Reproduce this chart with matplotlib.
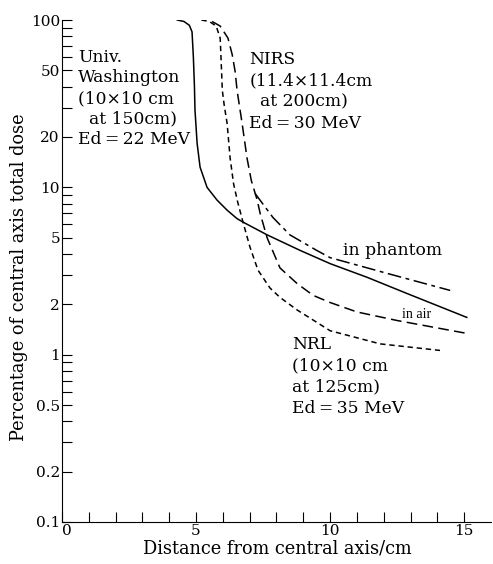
import matplotlib
matplotlib.use("Agg")
import matplotlib.pyplot as plt
from matplotlib.ticker import FixedLocator, FixedFormatter, NullFormatter

# ───── DATA ─────
# Univ. Washington, in phantom (solid)
uw_x = [4.3, 4.55, 4.75, 4.85, 4.9, 4.94, 4.96, 5.04, 5.15, 5.41, 5.78, 6.16,
        6.53, 6.75, 7.65, 8.88, 10.0, 11.38, 12.87, 15.1]
uw_y = [100, 98, 93, 85, 60, 40, 29, 18.3, 13.2, 10.0, 8.4, 7.3,
        6.5, 6.2, 5.2, 4.2, 3.5, 2.9, 2.32, 1.67]

# NRL (short dashes)
nrl_x = [5.2, 5.5, 5.75, 5.9, 5.93, 5.98, 6.05, 6.16, 6.27, 6.4, 6.55, 6.75,
         7.01, 7.31, 7.76, 8.13, 8.77, 10.0, 11.87, 14.1]
nrl_y = [100, 98, 92, 78, 60, 38, 31, 24, 15, 10.5, 8.2, 6.2,
         4.4, 3.2, 2.5, 2.2, 1.85, 1.39, 1.16, 1.06]

# NIRS in air (long dashes)
air_x = [5.6, 5.9, 6.19, 6.35, 6.46, 6.53, 6.72, 6.9, 7.06, 7.28, 7.39, 7.65,
         8.13, 8.77, 9.37, 10.0, 11.0, 12.5, 15.1]
air_y = [98, 92, 78, 62, 49, 38, 24, 15, 11, 8.4, 7.0, 5.0,
         3.3, 2.66, 2.26, 2.05, 1.8, 1.6, 1.34]

# NIRS in phantom (dash-dot)
ph_x = [7.2, 7.87, 8.5, 9.5, 10.0, 12.13, 14.48]
ph_y = [9.2, 6.6, 5.2, 4.2, 3.8, 3.06, 2.42]

y_major = [0.1, 0.2, 0.5, 1, 2, 5, 10, 20, 50, 100]
y_major_labels = ["0.1", "0.2", "0.5", "1", "2", "5", "10", "20", "50", "100"]
y_minor = [0.3, 0.4, 0.6, 0.7, 0.8, 0.9, 3, 4, 6, 7, 8, 9, 30, 40, 60, 70, 80, 90]
x_major = [0, 5, 10, 15]
x_minor = [1, 2, 3, 4, 6, 7, 8, 9, 11, 12, 13, 14]

plt.rcParams["font.family"] = ["DejaVu Serif"]
plt.rcParams["font.size"] = 11

fig = plt.figure(figsize=(4.93, 5.64), dpi=100)
ax = fig.add_axes([0.1258, 0.0745, 0.870, 0.890])

lw = 1.1
ax.plot(uw_x, uw_y, color="black", lw=lw, linestyle="-")
ax.plot(nrl_x, nrl_y, color="black", lw=lw, linestyle=(0, (3.5, 2.5)))
ax.plot(air_x, air_y, color="black", lw=lw, linestyle=(0, (7, 3.5)))
ax.plot(ph_x, ph_y, color="black", lw=lw, linestyle=(0, (9, 3, 2.5, 3)))

ax.set_yscale("log")
ax.set_xlim(0, 16)
ax.set_ylim(0.1, 100)

ax.yaxis.set_major_locator(FixedLocator(y_major))
ax.yaxis.set_major_formatter(FixedFormatter(y_major_labels))
ax.yaxis.set_minor_locator(FixedLocator(y_minor))
ax.yaxis.set_minor_formatter(NullFormatter())
ax.xaxis.set_major_locator(FixedLocator(x_major))
ax.xaxis.set_minor_locator(FixedLocator(x_minor))

ax.tick_params(which="both", direction="in", length=7, width=0.8, pad=1.5,
               labelsize=11)
ax.spines["top"].set_visible(False)
ax.spines["right"].set_visible(False)

# the "0" sits just right of the corner, clear of "0.1"
fig.canvas.draw()
ax.get_xticklabels()[0].set_horizontalalignment("left")

ax.set_xlabel("Distance from central axis/cm", fontsize=12.8)
ax.set_ylabel("Percentage of central axis total dose", fontsize=12.8)
ax.xaxis.set_label_coords(0.502, -0.034)
ax.yaxis.set_label_coords(-0.08, 0.488)

fs = 12.3
ts = "\u2009"  # thin space around "="
# va="baseline" on multi-line text anchors the last line's baseline
ax.text(0.6, 18.1, f"Univ.\nWashington\n(10×10 cm\n  at 150cm)\nEd{ts}={ts}22 MeV",
        fontsize=fs, va="baseline", ha="left", linespacing=1.28)
ax.text(6.98, 22.6, f"NIRS\n(11.4×11.4cm\n  at 200cm)\nEd{ts}={ts}30 MeV",
        fontsize=fs, va="baseline", ha="left", linespacing=1.33)
ax.text(10.49, 3.92, "in phantom", fontsize=fs, va="baseline", ha="left")
ax.text(12.69, 1.66, "in air", fontsize=10, va="baseline", ha="left",
        family="Liberation Serif")
ax.text(8.58, 0.45, f"NRL\n(10×10 cm\nat 125cm)\nEd{ts}={ts}35 MeV",
        fontsize=fs, va="baseline", ha="left", linespacing=1.33)

fig.savefig("out.png", dpi=100)
